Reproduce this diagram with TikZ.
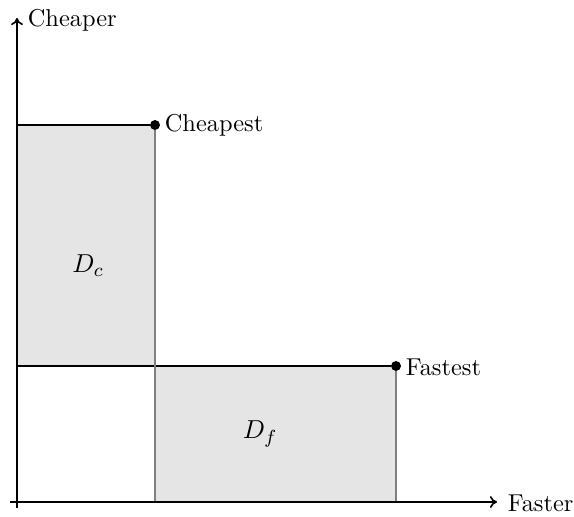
\documentclass[tikz,border=0pt]{standalone}
\usetikzlibrary{arrows.meta}
\begin{document}
\begin{tikzpicture}[x=0.422pt,y=-0.422pt,
  region/.style={fill=gray!20,draw=none},
  hline/.style={draw=black,line width=0.45pt},
  vline/.style={draw=gray,line width=0.5pt},
  axis/.style={draw=black,line width=0.7pt,-{To[length=3pt,width=5pt]}},
  pt/.style={circle,fill=black,inner sep=0pt,minimum size=4.2pt},
  lab/.style={anchor=west,inner sep=1pt,font=\fontsize{10.3}{12}\selectfont},
  dlab/.style={font=\fontsize{11}{13}\selectfont}]
\useasboundingbox (0,0) rectangle (574,516);
% key coordinates
\coordinate (ystart) at (17,508);
\coordinate (xstart) at (10,502);
\coordinate (yend) at (17,18);
\coordinate (xend) at (497,502);
\coordinate (cl) at (17,125);
\coordinate (ml) at (17,366);
\coordinate (mc) at (155,366);
\coordinate (cb) at (155,502);
\coordinate (fb) at (396,502);
% regions
\fill[region] (cl) rectangle (mc);
\fill[region] (mc) rectangle (fb);
% points
\node[pt] (cheapest) at (155,125) {};
\node[pt] (fastest) at (396,366) {};
% boundary lines
\draw[hline] (cl) -- (cheapest);
\draw[hline] (ml) -- (mc) -- (fastest);
\draw[vline] (cheapest) -- (cb);
\draw[vline] (fastest) -- (fb);
% axes
\draw[axis] (ystart) -- (yend);
\draw[axis] (xstart) -- (xend);
% labels
\node[lab] (lcheaper) at (25,20) {Cheaper};
\node[lab] (lfaster) at (505,503) {Faster};
\node[lab] (lcheapest) at (162,125) {Cheapest};
\node[lab] (lfastest) at (403,367) {Fastest};
\node[dlab] (dc) at (88,266) {$D_c$};
\node[dlab] (df) at (260,434) {$D_f$};
\end{tikzpicture}
\end{document}
